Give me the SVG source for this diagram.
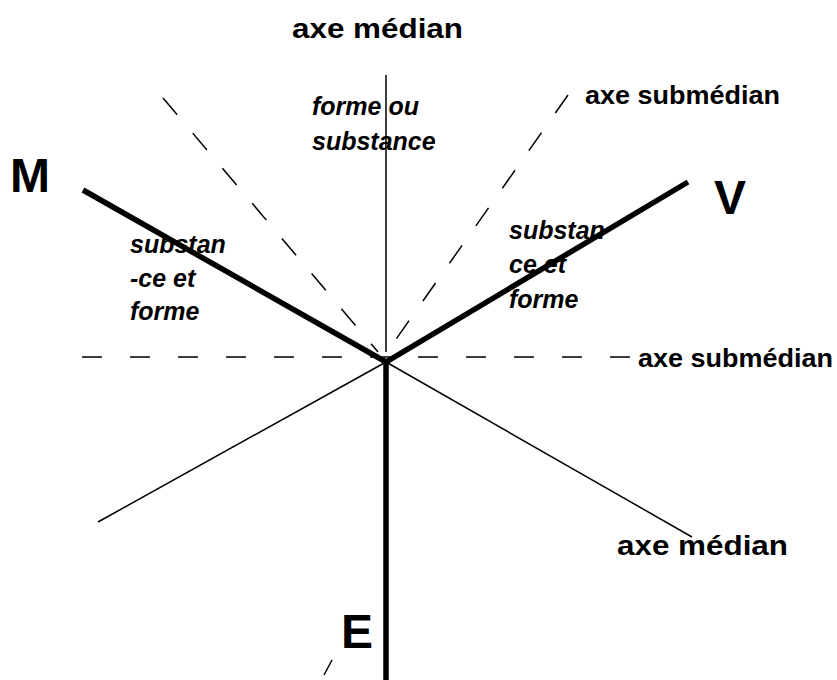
<svg xmlns="http://www.w3.org/2000/svg" width="837" height="680" viewBox="0 0 837 680">
<style>
.thick{stroke:#000;stroke-width:5.5;fill:none;stroke-linejoin:miter}
.thin{stroke:#000;stroke-width:1.5;fill:none}
.dash{stroke:#000;stroke-width:1.5;fill:none;stroke-dasharray:20 28}
.ddash{stroke:#000;stroke-width:1.5;fill:none;stroke-dasharray:22 24}
.lbl{font-family:"Liberation Sans",Arial,sans-serif;font-weight:bold;fill:#000}
.big{font-family:"Liberation Sans",Arial,sans-serif;font-weight:bold;font-size:48px;fill:#000}
.it{font-family:"Liberation Sans",Arial,sans-serif;font-weight:bold;font-style:italic;font-size:25px;fill:#000}
</style>
<rect width="837" height="680" fill="#fff"/>
<g id="connectors">
  <line class="thin" x1="386" y1="75" x2="386" y2="352"/>
  <line class="dash" x1="82" y1="357" x2="634" y2="357"/>
  <line class="ddash" x1="163" y1="98" x2="378" y2="352"/>
  <line class="ddash" x1="568" y1="95" x2="387" y2="352"/>
  <line class="thin" x1="324" y1="675" x2="332" y2="660"/>
  <line class="thin" x1="98" y1="522" x2="386" y2="362"/>
  <line class="thin" x1="386" y1="362" x2="692" y2="537"/>
  <polyline class="thick" points="83,190 386,362 688,182"/>
  <line class="thick" x1="386" y1="360" x2="386" y2="680"/>
</g>
<g id="label-axe-median-top"><text class="lbl" x="292" y="38" font-size="27" textLength="171" lengthAdjust="spacingAndGlyphs">axe médian</text></g>
<g id="label-axe-submedian-top"><text class="lbl" x="585" y="104" font-size="26" textLength="195" lengthAdjust="spacingAndGlyphs">axe submédian</text></g>
<g id="label-axe-submedian-right"><text class="lbl" x="638" y="367" font-size="26" textLength="195" lengthAdjust="spacingAndGlyphs">axe submédian</text></g>
<g id="label-axe-median-bottom"><text class="lbl" x="617" y="555" font-size="27" textLength="171" lengthAdjust="spacingAndGlyphs">axe médian</text></g>
<g id="node-M"><text class="big" x="10" y="192">M</text></g>
<g id="node-V"><text class="big" x="714" y="214">V</text></g>
<g id="node-E"><text class="big" x="341" y="648">E</text></g>
<g id="label-forme-ou"><text class="it" x="312" y="115">forme ou</text><text class="it" x="312" y="150">substance</text></g>
<g id="label-left"><text class="it" x="130" y="253">substan</text><text class="it" x="130" y="287">-ce et</text><text class="it" x="130" y="320">forme</text></g>
<g id="label-right"><text class="it" x="509" y="239">substan</text><text class="it" x="509" y="273">ce et</text><text class="it" x="509" y="308">forme</text></g>
</svg>
